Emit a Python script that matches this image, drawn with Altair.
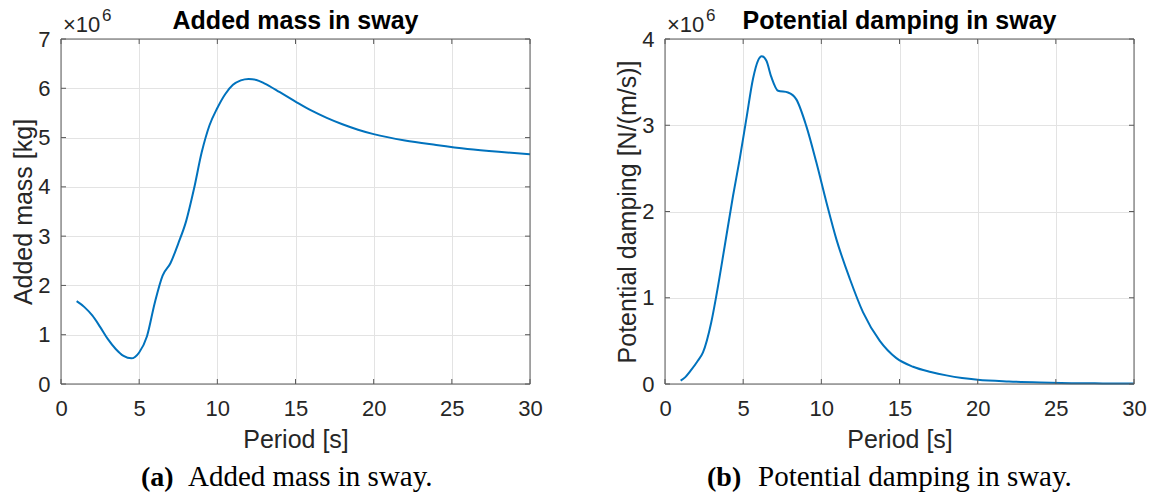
import altair as alt
import pandas as pd

# ---- data (values in units of 1e6) ----
period_a = [1, 1.5, 2, 2.5, 3, 3.5, 4, 4.5, 5, 5.5, 6, 6.5, 7, 7.5, 8, 8.5, 9, 9.5,
            10, 10.5, 11, 11.5, 12, 12.5, 13, 14, 15, 16, 17, 18, 19, 20, 22, 24, 26, 28, 30]
added_mass = [1.68, 1.56, 1.39, 1.16, 0.91, 0.71, 0.57, 0.52, 0.64, 0.97, 1.65, 2.2, 2.45, 2.85,
              3.3, 3.95, 4.7, 5.25, 5.6, 5.88, 6.07, 6.16, 6.19, 6.17, 6.1, 5.92, 5.73, 5.55,
              5.4, 5.27, 5.16, 5.07, 4.94, 4.85, 4.77, 4.71, 4.66]

period_b = [1, 1.3, 1.64, 2.1, 2.43, 2.96, 3.28, 3.82, 4.35, 4.78, 5.2, 5.63, 5.95, 6.19, 6.48,
            6.8, 7.23, 7.87, 8.4, 9.04, 9.68, 10.32, 10.96, 11.82, 12.67, 13.74, 14.8, 15.87,
            17, 18, 19, 20, 22, 24, 26, 28, 30]
damping = [0.04, 0.08, 0.154, 0.27, 0.366, 0.715, 1.02, 1.6, 2.18, 2.61, 3.07, 3.54, 3.75, 3.80,
           3.75, 3.56, 3.40, 3.38, 3.30, 2.99, 2.57, 2.11, 1.68, 1.22, 0.83, 0.50, 0.30, 0.2,
           0.14, 0.10, 0.07, 0.05, 0.03, 0.018, 0.01, 0.007, 0.005]

x_ticks = [0, 5, 10, 15, 20, 25, 30]
y_ticks_a = [0, 1, 2, 3, 4, 5, 6, 7]
y_ticks_b = [0, 1, 2, 3, 4]

titles = ["Added mass in sway", "Potential damping in sway"]
y_titles = ["Added mass [kg]", "Potential damping [N/(m/s)]"]
captions = [("(a)", "Added mass in sway."), ("(b)", "Potential damping in sway.")]

W, H = 469, 345
LINE = "#0072BD"
TXT = "#262626"
FRAME = "#5a5a5a"
SANS = "Liberation Sans"
SERIF = "Liberation Serif"
TL = 5  # inward tick length


def txt(text, x, y, size, font=SANS, weight="normal", color=TXT, align="left"):
    single = pd.DataFrame({"k": [0]})
    return alt.Chart(single).mark_text(font=font, fontSize=size, fontWeight=weight,
                                       color=color, align=align,
                                       baseline="alphabetic").encode(
        x=alt.value(x), y=alt.value(y), text=alt.value(text))


def panel(xs, ys, ymax, yticks, title, ytitle, cap, cap_x):
    df = pd.DataFrame({"x": xs, "y": ys})
    xsc = alt.Scale(domain=[0, 30], nice=False)
    ysc = alt.Scale(domain=[0, ymax], nice=False)
    line = alt.Chart(df).mark_line(color=LINE, strokeWidth=2, interpolate="monotone").encode(
        x=alt.X("x:Q", scale=xsc,
                axis=alt.Axis(values=x_ticks, title="Period [s]", format="d")),
        y=alt.Y("y:Q", scale=ysc,
                axis=alt.Axis(values=yticks, title=ytitle, format="d")),
    )
    xt = alt.Chart(pd.DataFrame({"t": x_ticks})).mark_rule(color=FRAME, strokeWidth=1)
    yt = alt.Chart(pd.DataFrame({"t": yticks})).mark_rule(color=FRAME, strokeWidth=1)
    ticks = [
        xt.encode(x=alt.X("t:Q", scale=xsc), y=alt.value(H), y2=alt.value(H - TL)),
        xt.encode(x=alt.X("t:Q", scale=xsc), y=alt.value(0), y2=alt.value(TL)),
        yt.encode(y=alt.Y("t:Q", scale=ysc), x=alt.value(0), x2=alt.value(TL)),
        yt.encode(y=alt.Y("t:Q", scale=ysc), x=alt.value(W), x2=alt.value(W - TL)),
    ]
    frame = alt.Chart(pd.DataFrame({"k": [0]})).mark_rect(
        fill=None, stroke=FRAME, strokeWidth=1).encode(
        x=alt.value(0), x2=alt.value(W), y=alt.value(0), y2=alt.value(H))
    return alt.layer(
        line, *ticks, frame,
        txt(title, W / 2, -10, 25, weight="bold", color="black", align="center"),
        txt("×10", 2, -7, 22),
        txt("6", 41, -18, 17),
        txt(cap[0], cap_x[0], 447, 28, font=SERIF, weight="bold", color="black"),
        txt(cap[1], cap_x[1], 447, 29, font=SERIF, color="black"),
    ).properties(width=W, height=H)


left = panel(period_a, added_mass, 7, y_ticks_a, titles[0], y_titles[0], captions[0],
             (80, 127))
right = panel(period_b, damping, 4, y_ticks_b, titles[1], y_titles[1], captions[1],
              (42, 93))

chart = alt.hconcat(left, right, spacing=135, bounds="flush").properties(
    padding={"left": 11, "top": 7, "right": 0, "bottom": 0},
    background="white",
).configure_view(stroke=None).configure_axis(
    labelFont=SANS, labelFontSize=22, labelColor=TXT, labelFlush=False, labelOverlap=False,
    titleFont=SANS, titleFontSize=25, titleFontWeight="normal", titleColor=TXT,
    domain=False, gridColor="#e3e3e3", ticks=False,
).configure_axisX(labelPadding=14, titlePadding=8).configure_axisY(
    labelPadding=11, titlePadding=1
)

chart.save("out.html", embed_options={"renderer": "svg", "actions": False})
